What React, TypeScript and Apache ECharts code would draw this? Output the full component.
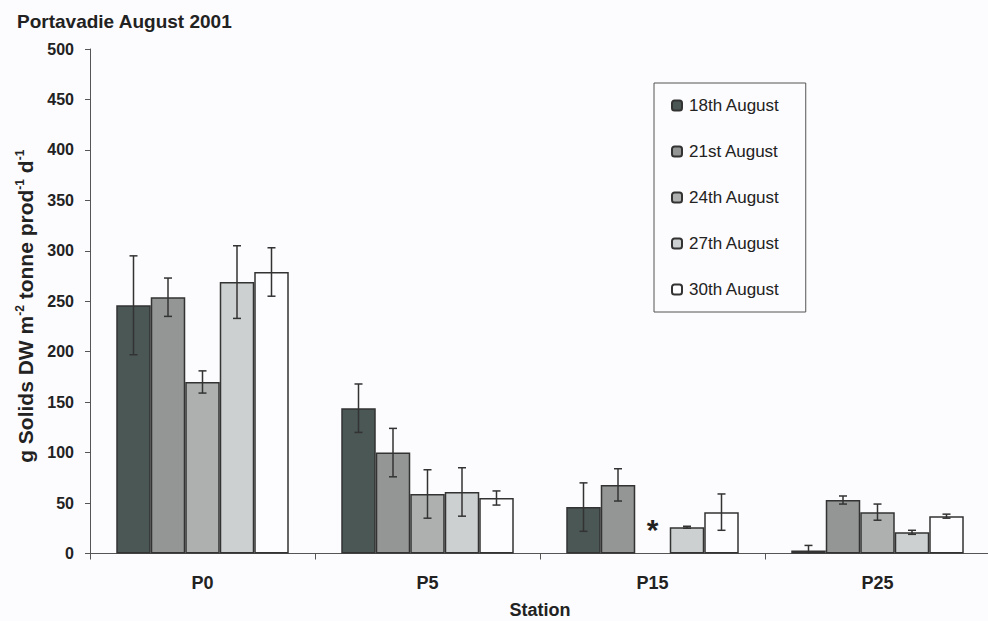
import React, { useEffect, useRef } from "react";
import * as echarts from "echarts";

const categories = ["P0", "P5", "P15", "P25"];
const seriesNames = ["18th August", "21st August", "24th August", "27th August", "30th August"];

const aug18 = [246, 144, 46, 3];
const aug21 = [254, 100, 68, 53];
const aug24: (number | null)[] = [170, 59, null, 41];
const aug27 = [269, 61, 26, 21];
const aug30 = [279, 55, 41, 37];

const err18 = [49, 24, 24, 5];
const err21 = [19, 24, 16, 4];
const err24: (number | null)[] = [11, 24, null, 8];
const err27 = [36, 24, 1, 2];
const err30 = [24, 7, 18, 2];

// missing sample marker: [category index, series index, height]
const missingMarks = [[2, 2, 24]];

const yTicks = { min: 0, max: 500, interval: 50 };

const colors = ["#4a5754", "#939695", "#aeb0b0", "#cdd0d0", "#fdfcff"];
const FONT = "'Liberation Sans', Arial, sans-serif";
const BAR_W = 34.5;

export default function App() {
  const ref = useRef<HTMLDivElement>(null);
  useEffect(() => {
    document.body.style.margin = "0";
    const chart = echarts.init(ref.current!, null, { renderer: "svg" });
    const values = [aug18, aug21, aug24, aug27, aug30];
    const errs = [err18, err21, err24, err27, err30];
    const errData: number[][] = [];
    values.forEach((arr, si) => {
      arr.forEach((v, ci) => {
        const e = errs[si][ci];
        if (v != null && e != null) errData.push([ci, v, e, si]);
      });
    });
    const barSeries = values.map((arr, i) => ({
      name: seriesNames[i],
      type: "bar",
      data: arr,
      barWidth: BAR_W,
      barGap: "0%",
      itemStyle: { color: colors[i], borderColor: "#333", borderWidth: 1.5 },
      z: 2,
    }));
    chart.setOption({
      animation: false,
      backgroundColor: "#fcfbfd",
      textStyle: { fontFamily: FONT },
      title: {
        text: "Portavadie August 2001",
        left: 17,
        top: 12,
        padding: 0,
        textStyle: { fontSize: 19, fontWeight: "bold", color: "#222", fontFamily: FONT },
      },
      legend: {
        data: seriesNames,
        orient: "vertical",
        left: 654,
        top: 83,
        itemGap: 29,
        itemWidth: 10,
        itemHeight: 10,
        padding: [14, 26, 14, 17],
        borderColor: "#555",
        borderWidth: 1,
        textStyle: { fontSize: 17, color: "#222", fontFamily: FONT, padding: [0, 0, 0, 2] },
      },
      grid: {
        left: 90,
        top: 49,
        width: 900,
        bottom: 67.5,
        containLabel: false,
        outerBoundsMode: "none",
      },
      xAxis: {
        type: "category",
        data: categories,
        name: "Station",
        nameLocation: "middle",
        nameGap: 47,
        nameTextStyle: { fontSize: 18, fontWeight: "bold", color: "#222", fontFamily: FONT },
        axisLine: { lineStyle: { color: "#555", width: 1 } },
        axisTick: { show: true, length: 6, alignWithLabel: false, lineStyle: { color: "#555" } },
        axisLabel: { fontSize: 18, fontWeight: "bold", color: "#222", margin: 20, fontFamily: FONT },
      },
      yAxis: {
        type: "value",
        min: yTicks.min,
        max: yTicks.max,
        interval: yTicks.interval,
        name: "{n|g Solids DW m}{s|-2}{n| tonne prod}{s|-1}{n| d}{s|-1}",
        nameLocation: "middle",
        nameRotate: 90,
        nameGap: 50,
        nameTextStyle: {
          padding: [0, 10, 0, 0],
          rich: {
            n: { fontSize: 21, fontWeight: "bold", color: "#222", fontFamily: FONT, lineHeight: 24 },
            s: { fontSize: 12, fontWeight: "bold", color: "#222", fontFamily: FONT, verticalAlign: "top", lineHeight: 12 },
          },
        },
        splitLine: { show: false },
        axisLine: { show: true, lineStyle: { color: "#555", width: 1 } },
        axisTick: { show: true, length: 5, lineStyle: { color: "#555" } },
        axisLabel: { fontSize: 16, fontWeight: "bold", color: "#222", margin: 16, fontFamily: FONT },
      },
      series: [
        ...barSeries,
        {
          name: "errors",
          type: "custom",
          data: errData,
          z: 5,
          clip: false,
          silent: true,
          renderItem: (params: any, api: any) => {
            const ci = api.value(0);
            const v = api.value(1);
            const e = api.value(2);
            const si = api.value(3);
            const c = api.coord([ci, v]);
            const x = c[0] + (si - 2) * BAR_W;
            const top = api.coord([ci, v + e])[1];
            const lowVal = v - e;
            const bot = api.coord([ci, Math.max(0, lowVal)])[1];
            const style = { stroke: "#333", lineWidth: 1.5 };
            const children: any[] = [
              { type: "line", shape: { x1: x, y1: top, x2: x, y2: bot }, style },
              { type: "line", shape: { x1: x - 4, y1: top, x2: x + 4, y2: top }, style },
            ];
            if (lowVal > 0) {
              children.push({ type: "line", shape: { x1: x - 4, y1: bot, x2: x + 4, y2: bot }, style });
            }
            return { type: "group", children };
          },
        },
        {
          name: "missing",
          type: "custom",
          data: missingMarks,
          z: 5,
          clip: false,
          silent: true,
          renderItem: (params: any, api: any) => {
            const ci = api.value(0);
            const si = api.value(1);
            const h = api.value(2);
            const c = api.coord([ci, h]);
            return {
              type: "text",
              x: c[0] + (si - 2) * BAR_W,
              y: c[1],
              style: {
                text: "*",
                fontSize: 30,
                fontWeight: "bold",
                fontFamily: FONT,
                fill: "#222",
                align: "center",
                verticalAlign: "middle",
              },
            };
          },
        },
      ],
    });
    return () => chart.dispose();
  }, []);
  return <div ref={ref} style={{ width: 988, height: 621 }} />;
}
